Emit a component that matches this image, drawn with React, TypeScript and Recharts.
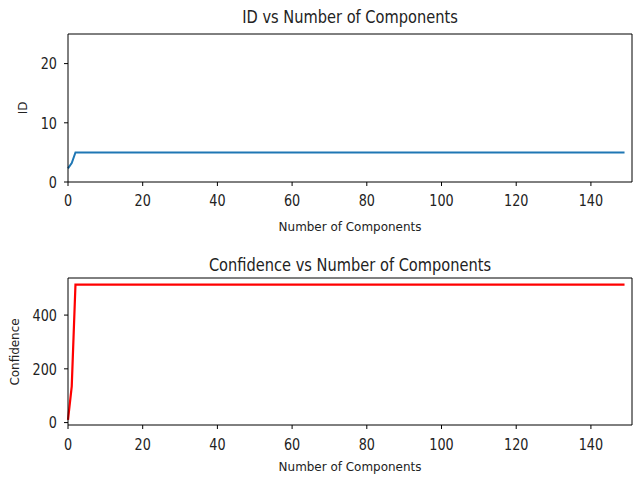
import React from 'react';
import { LineChart, Line, XAxis, YAxis, ReferenceLine } from 'recharts';

// Number of components (x) and the values
const components = [0, 1, 2, 149];
const idValues = [2.3, 3.2, 5, 5];
const confidenceValues = [10, 135, 513, 513];

const xTicks = [0, 20, 40, 60, 80, 100, 120, 140];
const idTicks = [0, 10, 20];
const confidenceTicks = [0, 200, 400];

const idData = components.map((c, i) => ({ n: c, id: idValues[i] }));
const confData = components.map((c, i) => ({ n: c, confidence: confidenceValues[i] }));

const FONT = '"DejaVu Sans", sans-serif';
const TEXT = '#222';

// matplotlib text in the reference is narrow, so squeeze it a bit
const XTick = ({ x, y, payload }: any) => (
  <text
    transform={`translate(${x},${y}) scale(0.8,1)`}
    textAnchor="middle"
    dy="0.71em"
    fontSize={16}
    fontFamily={FONT}
    fill={TEXT}
  >
    {payload.value}
  </text>
);

const YTick = ({ x, y, payload }: any) => (
  <text
    transform={`translate(${x},${y}) scale(0.8,1)`}
    textAnchor="end"
    dy="0.36em"
    fontSize={16}
    fontFamily={FONT}
    fill={TEXT}
  >
    {payload.value}
  </text>
);

const X_MAX = 151;

const App: React.FC = () => {
  return (
    <div style={{ position: 'absolute', left: 0, top: 0, width: 633, height: 479, background: '#fff' }}>
      <div style={{ position: 'absolute', left: 0, top: 0 }}>
        <LineChart width={633} height={240} data={idData} margin={{ top: 34, right: 1, left: 0, bottom: 0 }}>
          <XAxis
            dataKey="n"
            type="number"
            domain={[0, X_MAX]}
            ticks={xTicks}
            height={58}
            stroke="#000"
            tickSize={4}
            tickMargin={9}
            tick={<XTick />}
          />
          <YAxis
            type="number"
            domain={[0, 25]}
            ticks={idTicks}
            width={68}
            stroke="#000"
            tickSize={4}
            tickMargin={7}
            tick={<YTick />}
          />
          <ReferenceLine y={25} stroke="#000" />
          <ReferenceLine x={X_MAX} stroke="#000" />
          <Line type="linear" dataKey="id" stroke="#1f77b4" strokeWidth={2} dot={false} isAnimationActive={false} />
        </LineChart>
      </div>

      <div style={{ position: 'absolute', left: 0, top: 240 }}>
        <LineChart width={633} height={239} data={confData} margin={{ top: 38, right: 1, left: 0, bottom: 0 }}>
          <XAxis
            dataKey="n"
            type="number"
            domain={[0, X_MAX]}
            ticks={xTicks}
            height={54}
            stroke="#000"
            tickSize={4}
            tickMargin={10}
            tick={<XTick />}
          />
          <YAxis
            type="number"
            domain={[-9, 538]}
            ticks={confidenceTicks}
            width={68}
            stroke="#000"
            tickSize={4}
            tickMargin={7}
            tick={<YTick />}
          />
          <ReferenceLine y={538} stroke="#000" />
          <ReferenceLine x={X_MAX} stroke="#000" />
          <Line type="linear" dataKey="confidence" stroke="#ff0000" strokeWidth={2.2} dot={false} isAnimationActive={false} />
        </LineChart>
      </div>

      {/* titles and axis labels */}
      <svg width={633} height={479} style={{ position: 'absolute', left: 0, top: 0, pointerEvents: 'none' }}>
        <g fontFamily={FONT} fill={TEXT}>
          <text transform="translate(350,23) scale(0.86,1)" textAnchor="middle" fontSize={17}>
            ID vs Number of Components
          </text>
          <text transform="translate(350,271) scale(0.86,1)" textAnchor="middle" fontSize={17}>
            Confidence vs Number of Components
          </text>
          <text transform="translate(350,231) scale(0.92,1)" textAnchor="middle" fontSize={13}>
            Number of Components
          </text>
          <text transform="translate(350,471) scale(0.92,1)" textAnchor="middle" fontSize={13}>
            Number of Components
          </text>
          <text transform="translate(27,108) rotate(-90) scale(0.92,1)" textAnchor="middle" fontSize={13}>
            ID
          </text>
          <text transform="translate(19,352) rotate(-90) scale(0.92,1)" textAnchor="middle" fontSize={13}>
            Confidence
          </text>
        </g>
      </svg>
    </div>
  );
};

export default App;
